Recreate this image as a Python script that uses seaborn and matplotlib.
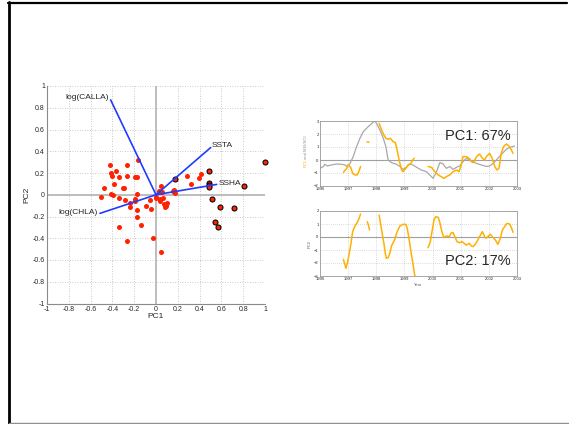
import numpy as np
import pandas as pd
import matplotlib
matplotlib.use("Agg")
import matplotlib.pyplot as plt
from matplotlib.lines import Line2D
import seaborn as sns

# ---------------- data ----------------
# Biplot scores (plain red points)
pc1_scores = [-0.505, -0.48, -0.419, -0.413, -0.404, -0.41, -0.394, -0.385, -0.364, -0.339,
              -0.343, -0.339, -0.306, -0.294, -0.281, -0.266, -0.269, -0.263, -0.239, -0.239,
              -0.196, -0.177, -0.193, -0.19, -0.171, -0.174, -0.174, -0.168, -0.138, -0.092,
              -0.049, -0.052, -0.028, 0.0, 0.003, 0.043, 0.049, 0.049, 0.040, 0.034,
              0.064, 0.058, 0.076, 0.080, 0.089, 0.101, 0.153, 0.162, 0.168, 0.174,
              0.284, 0.324, 0.391, 0.413, 0.03]
pc2_scores = [-0.021, 0.064, 0.269, 0.196, 0.174, 0.006, 0.0, 0.095, 0.217, 0.165,
              -0.028, -0.297, 0.061, 0.064, -0.052, 0.275, 0.177, -0.428, -0.073, -0.110,
              0.165, 0.165, -0.037, -0.061, 0.009, -0.141, -0.208, 0.315, -0.281, -0.107,
              -0.131, -0.049, -0.401, -0.024, -0.034, -0.523, 0.076, 0.021, -0.043, -0.061,
              -0.031, 0.024, -0.086, -0.113, -0.104, -0.073, 0.037, 0.028, 0.046, 0.018,
              0.177, 0.098, 0.150, 0.190, 0.037]
# Biplot scores (black-edged points)
pc1_edge = [0.177, 0.489, 0.486, 0.486, 0.486, 0.514, 0.590, 0.544, 0.572, 0.719, 0.804, 1.0]
pc2_edge = [0.147, 0.220, 0.104, 0.086, 0.067, -0.037, -0.110, -0.251, -0.294, -0.122, 0.080, 0.300]

# Loadings
load_names = ["log(CALLA)", "SSTA", "SSHA", "log(CHLA)"]
load_pc1 = [-0.416, 0.502, 0.557, -0.514]
load_pc2 = [0.872, 0.434, 0.095, -0.171]

biplot_ticks = [-1, -0.8, -0.6, -0.4, -0.2, 0, 0.2, 0.4, 0.6, 0.8, 1]

# Time series: MEI (gray)
mei_year = [1996.0, 1996.12, 1996.18, 1996.26, 1996.41, 1996.59, 1996.77, 1996.89, 1996.95, 1997.06,
            1997.18, 1997.3, 1997.42, 1997.54, 1997.71, 1997.87, 1997.94, 1998.01, 1998.13, 1998.25,
            1998.34, 1998.42, 1998.54, 1998.72, 1998.84, 1998.95, 1999.07, 1999.19, 1999.3, 1999.43,
            1999.6, 1999.78, 1999.96, 2000.02, 2000.14, 2000.26, 2000.37, 2000.49, 2000.61, 2000.73,
            2000.85, 2000.96, 2001.08, 2001.2, 2001.32, 2001.44, 2001.56, 2001.73, 2001.91, 2002.03,
            2002.15, 2002.32, 2002.48, 2002.62, 2002.74, 2002.91]
mei_val = [-0.64, -0.5, -0.33, -0.46, -0.38, -0.31, -0.33, -0.38, -0.5, -0.3,
           0.26, 1.03, 1.67, 2.18, 2.56, 2.87, 3.0, 2.82, 2.3, 1.67,
           1.03, 0.0, -0.2, -0.33, -0.5, -0.72, -0.55, -0.31, -0.38, -0.56,
           -0.77, -0.9, -1.28, -1.41, -0.9, -0.2, -0.3, -0.64, -0.5, -0.72,
           -0.56, -0.46, -0.13, 0.13, 0.0, -0.13, -0.26, -0.38, -0.5, -0.46,
           -0.26, 0.13, 0.51, 0.82, 0.97, 1.08]

# PC1 series (orange), with segment ids for the gaps
pc1_year = [1996.83, 1996.95, 1997.0, 1997.09, 1997.16, 1997.24, 1997.32, 1997.38, 1997.44,
            1997.68, 1997.75,
            1998.1, 1998.19, 1998.27, 1998.34, 1998.42, 1998.5, 1998.6, 1998.68, 1998.74, 1998.81,
            1998.9, 1998.95, 1999.05, 1999.13, 1999.23, 1999.31, 1999.35,
            1999.84, 1999.96, 2000.08, 2000.2, 2000.31, 2000.4, 2000.49, 2000.61, 2000.73, 2000.85,
            2000.94, 2001.02, 2001.08, 2001.2, 2001.3, 2001.38, 2001.46, 2001.56, 2001.67, 2001.77,
            2001.85, 2001.91, 2002.03, 2002.12, 2002.21, 2002.29, 2002.36, 2002.44, 2002.52, 2002.62,
            2002.71, 2002.8, 2002.86]
pc1_val = [-0.95, -0.64, -0.38, -0.56, -1.03, -1.15, -1.15, -0.9, -0.5,
           1.41, 1.41,
           2.82, 2.3, 1.92, 1.67, 1.59, 1.67, 1.41, 1.33, 0.77, 0.0,
           -0.77, -0.9, -0.64, -0.38, -0.26, 0.05, 0.13,
           -0.5, -0.56, -0.9, -1.15, -1.28, -1.41, -1.28, -1.15, -0.9, -0.77,
           -0.9, -0.38, 0.26, 0.26, 0.13, -0.13, -0.2, 0.26, 0.46, 0.13,
           0.0, 0.26, 0.51, 0.13, -0.5, -0.77, -0.64, 0.51, 1.03, 1.23,
           1.08, 0.77, 0.51]
pc1_seg = [0] * 9 + [1] * 2 + [2] * 17 + [3] * 33

# PC2 series (orange)
pc2_year = [1996.83, 1996.89, 1996.92, 1996.97, 1997.04, 1997.1, 1997.16, 1997.24, 1997.32, 1997.39, 1997.44,
            1997.68, 1997.73, 1997.76,
            1998.1, 1998.15, 1998.21, 1998.27, 1998.32, 1998.36, 1998.42, 1998.48, 1998.54, 1998.66,
            1998.74, 1998.84, 1998.95, 1999.05, 1999.1, 1999.17, 1999.25, 1999.31, 1999.37,
            1999.84, 1999.92, 1999.99, 2000.05, 2000.11, 2000.2, 2000.26, 2000.33, 2000.4, 2000.49,
            2000.59, 2000.67, 2000.73, 2000.79, 2000.87, 2000.96, 2001.05, 2001.12, 2001.2, 2001.3,
            2001.38, 2001.44, 2001.52, 2001.61, 2001.67, 2001.77, 2001.85, 2001.91, 2001.99, 2002.06,
            2002.15, 2002.23, 2002.32, 2002.41, 2002.48, 2002.56, 2002.64, 2002.74, 2002.81, 2002.86]
pc2_val = [-1.72, -2.15, -2.41, -2.03, -1.26, -0.49, 0.41, 0.85, 1.1, 1.44, 1.77,
           1.18, 0.85, 0.54,
           1.69, 1.05, 0.28, -0.49, -1.26, -1.64, -1.59, -1.26, -0.69, -0.18,
           0.41, 0.85, 0.97, 0.97, 0.67, -0.23, -1.38, -2.15, -3.0,
           -0.82, -0.36, 0.54, 1.31, 1.56, 1.51, 1.1, 0.41, -0.03, 0.08,
           0.03, 0.33, 0.33, 0.03, -0.36, -0.44, -0.36, -0.49, -0.62, -0.49,
           -0.69, -0.74, -0.56, -0.23, 0.03, 0.41, 0.03, -0.1, 0.08, 0.21,
           -0.05, -0.23, -0.56, -0.1, 0.54, 0.79, 1.05, 1.0, 0.67, 0.36]
pc2_seg = [0] * 11 + [1] * 3 + [2] * 19 + [3] * 40

year_ticks = [1996, 1997, 1998, 1999, 2000, 2001, 2002, 2003]
pc1_yticks = [-2, -1, 0, 1, 2, 3]
pc2_yticks = [-3, -2, -1, 0, 1, 2]

# ---------------- style ----------------
sns.set_style("white")
plt.rcParams["font.family"] = ["Liberation Sans", "DejaVu Sans"]

RED = "#ff2200"
BLUE = "#1f3cff"
ORANGE = "#ffb000"
GRAYLINE = "#a8a8a8"
GRIDC = "#b8b8b8"

W, H = 569, 424
fig = plt.figure(figsize=(W / 100, H / 100), dpi=100)

def fx(px):
    return px / W

def fy(py):
    return 1 - py / H

# slide border
fig.add_artist(Line2D([fx(9), fx(9)], [0, fy(2)], color="black", lw=2.0))
fig.add_artist(Line2D([fx(8), fx(567)], [fy(2.5), fy(2.5)], color="black", lw=1.6))
fig.add_artist(Line2D([fx(9), 1], [fy(423.3), fy(423.3)], color="#909090", lw=1.0))

# ---------------- biplot ----------------
ax = fig.add_axes([fx(47), fy(303.5), fx(265) - fx(47), fy(86) - fy(303.5)])
ax.set_xlim(-1, 1)
ax.set_ylim(-1, 1)
ax.set_xticks(biplot_ticks)
ax.set_yticks(biplot_ticks)
ax.set_xticklabels([f"{v:g}" for v in biplot_ticks])
ax.set_yticklabels([f"{v:g}" for v in biplot_ticks])
ax.grid(True, color=GRIDC, lw=0.6, linestyle=(0, (1, 2)))
ax.axhline(0, color="#bdbdbd", lw=1.4, zorder=1)
ax.axvline(0, color="#bdbdbd", lw=1.4, zorder=1)
for s in ["top", "right"]:
    ax.spines[s].set_visible(False)
for s in ["left", "bottom"]:
    ax.spines[s].set_color("#8a8a8a")
    ax.spines[s].set_linewidth(0.8)
ax.tick_params(labelsize=5, length=2, direction="in", color="#8a8a8a", pad=1.5)

df_pts = pd.DataFrame({"PC1": pc1_scores, "PC2": pc2_scores})
df_edge = pd.DataFrame({"PC1": pc1_edge, "PC2": pc2_edge})
sns.scatterplot(data=df_pts, x="PC1", y="PC2", ax=ax, color=RED, s=13, linewidth=0, zorder=3)
sns.scatterplot(data=df_edge, x="PC1", y="PC2", ax=ax, color=RED, s=13, edgecolor="black",
                linewidth=0.75, zorder=3, clip_on=False)

for name, lx, ly in zip(load_names, load_pc1, load_pc2):
    ax.plot([0, lx], [0, ly], color=BLUE, lw=1.2, zorder=4)

ax.text(-0.435, 0.89, load_names[0], fontsize=6, ha="right", va="center")
ax.text(0.515, 0.45, load_names[1], fontsize=6, ha="left", va="center")
ax.text(0.572, 0.107, load_names[2], fontsize=6, ha="left", va="center")
ax.text(-0.532, -0.16, load_names[3], fontsize=6, ha="right", va="center")

ax.set_xlabel("PC1", fontsize=6, labelpad=0)
ax.set_ylabel("PC2", fontsize=6, labelpad=2)

# ---------------- time series ----------------
def style_ts(a, yticks):
    a.set_xlim(1996, 2003)
    a.set_ylim(yticks[0], yticks[-1])
    a.set_xticks(year_ticks)
    a.set_yticks(yticks)
    a.grid(True, color=GRIDC, lw=0.5, linestyle=(0, (1, 2)))
    a.axhline(0, color="#a0a0a0", lw=0.8, zorder=1)
    for s in a.spines.values():
        s.set_color("#9a9a9a")
        s.set_linewidth(0.6)
    a.tick_params(labelsize=3, length=1.5, direction="in", color="#9a9a9a", pad=1)
    a.set_xlabel("")
    a.set_ylabel("")

ax1 = fig.add_axes([fx(320), fy(186), fx(517) - fx(320), fy(121) - fy(186)])
df_mei = pd.DataFrame({"year": mei_year, "val": mei_val})
df_pc1 = pd.DataFrame({"year": pc1_year, "val": pc1_val, "seg": pc1_seg})
sns.lineplot(data=df_mei, x="year", y="val", ax=ax1, color=GRAYLINE, lw=0.9, estimator=None)
sns.lineplot(data=df_pc1, x="year", y="val", units="seg", estimator=None, ax=ax1,
             color=ORANGE, lw=1.1)
style_ts(ax1, pc1_yticks)
ax1.text(0.97, 0.88, "PC1: 67%", transform=ax1.transAxes, fontsize=10.5, ha="right", va="top")
fig.text(fx(306), fy(167), "PC1", color=ORANGE, fontsize=3, rotation=90, ha="center", va="bottom")
fig.text(fx(306), fy(160.5), " and MEI/SOI", color="#909090", fontsize=3, rotation=90,
         ha="center", va="bottom")

ax2 = fig.add_axes([fx(320), fy(276), fx(517) - fx(320), fy(211) - fy(276)])
df_pc2 = pd.DataFrame({"year": pc2_year, "val": pc2_val, "seg": pc2_seg})
sns.lineplot(data=df_pc2, x="year", y="val", units="seg", estimator=None, ax=ax2,
             color=ORANGE, lw=1.1)
style_ts(ax2, pc2_yticks)
ax2.text(0.97, 0.12, "PC2: 17%", transform=ax2.transAxes, fontsize=10.5, ha="right", va="bottom")
ax2.set_ylabel("PC2", fontsize=3, labelpad=2, color="#606060")
ax2.set_xlabel("Year", fontsize=3, labelpad=1, color="#606060")

fig.savefig("out.png", dpi=100)
